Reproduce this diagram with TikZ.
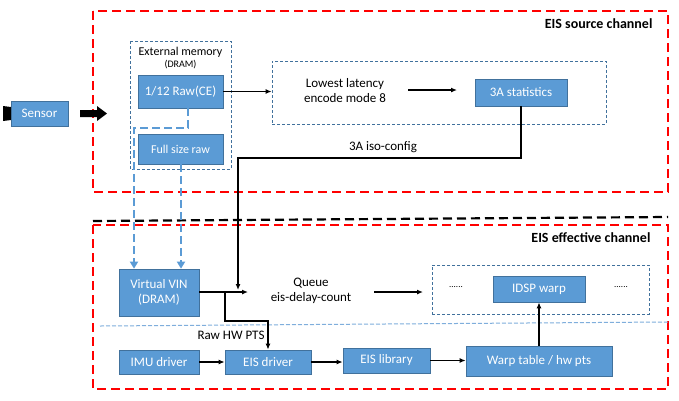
\documentclass[tikz,border=0pt]{standalone}
\usepackage{fontspec}
\setmainfont{Carlito}
\usetikzlibrary{arrows.meta}
\definecolor{boxfill}{HTML}{5B9BD5}
\definecolor{boxline}{HTML}{41719C}
\definecolor{thinblue}{HTML}{41719C}
\definecolor{sepblue}{HTML}{7FAEDC}
\begin{document}
\begin{tikzpicture}[x=1pt,y=-1pt,font=\fontsize{13}{15}\selectfont,
  blk/.style={draw=boxline,fill=boxfill,text=white,line width=0.7pt,inner sep=0pt,align=center},
  reddash/.style={draw=red,line width=2.2pt,dash pattern=on 9pt off 5pt},
  thindash/.style={draw=thinblue,line width=0.8pt,dash pattern=on 3pt off 2pt},
  bluedash/.style={draw=boxfill,line width=2.4pt,dash pattern=on 8pt off 4pt,-{Triangle[length=7pt,width=8pt]}},
  arr/.style={draw=black,line width=1.2pt,-{Latex[length=6pt,width=5pt]}},
  lbl/.style={font=\fontsize{14}{16}\selectfont\bfseries,anchor=east}]
\useasboundingbox[fill=white] (0,0) rectangle (679,400);

% channel frames
\draw[reddash] (93,11) rectangle (668,192);
\draw[reddash] (93,225) rectangle (668,389);
\draw[draw=black,line width=2.2pt,dash pattern=on 9pt off 5pt] (93,221) -- (668,217);
\draw[draw=sepblue,line width=1pt,dash pattern=on 4pt off 2pt] (100,326) -- (668,322);
\node[lbl] (srcl) at (656,24) {EIS source channel};
\node[lbl] (effl) at (654,238) {EIS effective channel};

% sensor
\fill (3,106) -- (11,107) -- (11,120) -- (3,121) -- cycle;
\node[blk,minimum width=57pt,minimum height=25pt] (sensor) at (39.5,113.5) {Sensor};
\fill[black] (80,110) -- (97,110) -- (97,106) -- (107,113.5) -- (97,121) -- (97,117) -- (80,117) -- cycle;

% external memory
\draw[thindash] (130,41) rectangle (231,169);
\node (extm) at (180.5,52) {\fontsize{12}{14}\selectfont External memory};
\node (dram) at (180.5,65) {\fontsize{10}{12}\selectfont (DRAM)};
\node[blk,minimum width=85pt,minimum height=33pt] (raw12) at (180.5,91.5) {1/12 Raw(CE)};
\node[blk,minimum width=85pt,minimum height=30pt] (full) at (180.5,149) {\fontsize{12}{14}\selectfont Full size raw};

% lowest latency
\node[thindash,minimum width=334pt,minimum height=63pt] (lowbox) at (439,92.5) {};
\node[align=center] (low) at (345,91) {Lowest latency\\encode mode 8};
\node[blk,minimum width=92pt,minimum height=27pt] (stats) at (521,92.5) {3A statistics};
\draw[arr] (raw12.east) -- (lowbox.west |- raw12.east);
\draw[arr] (408,90) -- (457,90);

% virtual vin
\node[blk,minimum width=80pt,minimum height=47pt] (vin) at (159,292.5) {Virtual VIN\\(DRAM)};
\coordinate (a1) at (188,128);
\coordinate (a2) at (134,128);
\draw[bluedash] (raw12.south -| a1) -- (a1) -- (a2) -- (a2 |- vin.north);
\draw[bluedash] (full.south) ++(0.5,0) coordinate (fs) -- (fs |- vin.north);

% 3A iso-config
\coordinate (isoc) at (238,158);
\coordinate (isoe) at (238,290);
\draw[arr] (stats.south) |- (isoc) -- (isoe);
\node (iso) at (383,147) {3A iso-config};

% queue
\node[align=center] (queue) at (311,291) {Queue\\eis-delay-count};
\coordinate (qin) at (248,292);
\draw[arr] (vin.east |- qin) -- (qin);
\draw[arr] (374,292) -- (423,292);

% IDSP
\node[thindash,minimum width=217pt,minimum height=49pt] (idspbox) at (540.5,289.5) {};
\node[blk,minimum width=92pt,minimum height=26pt] (idsp) at (539,289) {IDSP warp};
\node (dl) at (456,287) {\fontsize{9}{10}\selectfont ......};
\node (dr) at (621,287) {\fontsize{9}{10}\selectfont ......};

% bottom row
\node[blk,minimum width=80pt,minimum height=24pt] (imu) at (159,362) {IMU driver};
\node[blk,minimum width=86pt,minimum height=24pt] (eisd) at (268,362) {EIS driver};
\node[blk,minimum width=87pt,minimum height=25pt] (eisl) at (386.5,360.5) {EIS library};
\node[blk,minimum width=146pt,minimum height=30pt] (warp) at (539,361) {Warp table / hw pts};
\draw[arr] (imu.east) -- (eisd.west);
\draw[arr] (eisd.east) -- (eisd.east -| eisl.west);
\draw[arr] (eisl.east) -- (eisl.east -| warp.west);
\draw[arr] (warp.north) -- (idsp.south);

% raw hw pts
\coordinate (sp) at (225,292);
\coordinate (sp2) at (225,321);
\draw[arr] (sp) -- (sp2) -| (eisd.north);
\node (rawpts) at (231,335) {Raw HW PTS};
\end{tikzpicture}
\end{document}
